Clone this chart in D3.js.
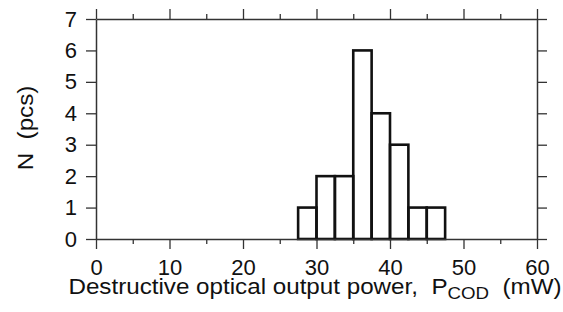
<!DOCTYPE html>
<html>
<head>
<meta charset="utf-8">
<script src="https://cdn.jsdelivr.net/npm/d3@7"></script>
<style>
  body { margin: 0; background: #fff; }
  text { font-family: "Liberation Sans", Arial, sans-serif; fill: #111; white-space: pre; }
</style>
</head>
<body>
<svg id="hist" width="563" height="312"></svg>
<script>
// bin edges (mW) and counts per bin
const binStarts = [27.5, 30, 32.5, 35, 37.5, 40, 42.5, 45];
const binWidth = 2.5;
const counts = [1, 2, 2, 6, 4, 3, 1, 1];
const xTicks = [0, 10, 20, 30, 40, 50, 60];
const xMinorTicks = [5, 15, 25, 35, 45, 55];
const yTicks = [0, 1, 2, 3, 4, 5, 6, 7];

const svg = d3.select("#hist");
const margin = { top: 19, right: 26, bottom: 73, left: 96 };
const width = +svg.attr("width");
const height = +svg.attr("height");
const innerWidth = width - margin.left - margin.right;
const innerHeight = height - margin.top - margin.bottom;

const g = svg.append("g")
  .attr("transform", `translate(${margin.left}, ${margin.top})`);

const x = d3.scaleLinear().domain([0, 60]).range([0, innerWidth]);
const y = d3.scaleLinear().domain([0, 7]).range([innerHeight, 0]);

const bins = binStarts.map((s, i) => ({ x0: s, x1: s + binWidth, n: counts[i] }));

g.selectAll("rect.bar")
  .data(bins)
  .enter()
  .append("rect")
  .attr("class", "bar")
  .attr("x", d => x(d.x0))
  .attr("y", d => y(d.n))
  .attr("width", d => x(d.x1) - x(d.x0))
  .attr("height", d => y(0) - y(d.n))
  .attr("fill", "none")
  .attr("stroke", "#111")
  .attr("stroke-width", 2.6);

function styleAxis(sel) {
  sel.select(".domain").attr("stroke", "#333").attr("stroke-width", 1.5);
  sel.selectAll(".tick line").attr("stroke", "#333").attr("stroke-width", 1.3);
  sel.selectAll("text").attr("font-size", "22px");
}

// ticks-only axes: drop the empty label nodes
function ticksOnly(sel) {
  sel.selectAll(".tick text").remove();
  styleAxis(sel);
}

const fmt = d3.format("d");

// bottom axis with labels
const bottomAxis = g.append("g")
  .attr("transform", `translate(0, ${innerHeight})`)
  .call(d3.axisBottom(x).tickValues(xTicks).tickFormat(fmt).tickSize(10).tickSizeOuter(0).tickPadding(10));
styleAxis(bottomAxis);
g.append("g")
  .attr("transform", `translate(0, ${innerHeight})`)
  .call(d3.axisBottom(x).tickValues(xMinorTicks).tickSize(5))
  .call(s => s.select(".domain").remove())
  .call(ticksOnly);

// top axis, ticks only
g.append("g")
  .call(d3.axisTop(x).tickValues(xTicks).tickSize(10).tickSizeOuter(0))
  .call(ticksOnly);
g.append("g")
  .call(d3.axisTop(x).tickValues(xMinorTicks).tickSize(5))
  .call(s => s.select(".domain").remove())
  .call(ticksOnly);

// left axis with labels
const leftAxis = g.append("g")
  .call(d3.axisLeft(y).tickValues(yTicks).tickFormat(fmt).tickSize(10).tickSizeOuter(0).tickPadding(9));
styleAxis(leftAxis);

// right axis, ticks only
g.append("g")
  .attr("transform", `translate(${innerWidth}, 0)`)
  .call(d3.axisRight(y).tickValues(yTicks).tickSize(10).tickSizeOuter(0))
  .call(ticksOnly);

// axis titles (reference face is a bit wider than Arial, so stretch slightly)
const xl = svg.append("text")
  .attr("transform", "translate(315, 294) scale(1.1, 1)")
  .attr("text-anchor", "middle")
  .attr("font-size", "22px");
xl.append("tspan").text("Destructive optical output power,  P");
xl.append("tspan").attr("font-size", "17px").attr("dy", 5).text("COD");
xl.append("tspan").attr("dy", -5).text("  (mW)");

svg.append("text")
  .attr("transform", "translate(33, 128) rotate(-90) scale(1.1, 1)")
  .attr("text-anchor", "middle")
  .attr("font-size", "22px")
  .text("N  (pcs)");
</script>
</body>
</html>
